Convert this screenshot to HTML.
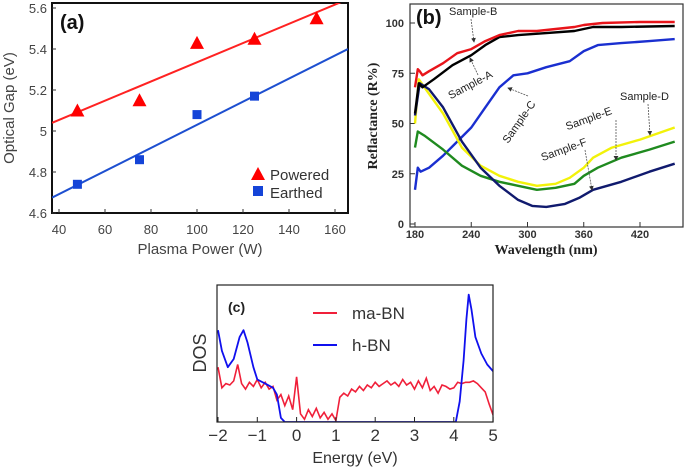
<!DOCTYPE html>
<html><head><meta charset="utf-8"><style>
body{margin:0;background:#fff;width:685px;height:469px;overflow:hidden}
svg{display:block;font-family:"Liberation Sans",sans-serif}
</style></head><body>
<svg id="s" width="685" height="469">
<defs><marker id="ar" markerWidth="6" markerHeight="6" refX="5" refY="3" orient="auto"><path d="M0,0L6,3L0,6z" fill="#333"/></marker>
<clipPath id="ca"><rect x="52" y="3" width="296" height="210"/></clipPath>
<clipPath id="cb"><rect x="410" y="4" width="273" height="223"/></clipPath>
<clipPath id="cc"><rect x="217" y="285" width="276" height="137"/></clipPath></defs>
</svg>
<script>
// Panel (a)
const aPowX=[48,75,100,125,152], aPowY=[5.10,5.15,5.43,5.45,5.55];
const aEarX=[48,75,100,125], aEarY=[4.74,4.86,5.08,5.17];
const aFitPow=[[37,5.04],[165,5.64]], aFitEar=[[37,4.675],[165.6,5.40]];
const aXTicks=[40,60,80,100,120,140,160], aYTicks=[4.6,4.8,5.0,5.2,5.4,5.6], aYLab=["4.6","4.8","5","5.2","5.4","5.6"];
// Panel (b)
const bX={B:[180,183,185,188,195,210,225,240,255,270,290,310,330,350,360,380,420,457],
A:[180,184,188,200,220,240,255,270,290,320,350,370,400,457],
C:[180,183,186,195,210,225,240,255,270,285,300,320,345,360,375,400,430,457],
D:[180,184,190,210,230,250,270,290,310,330,345,360,370,390,420,457],
E:[180,183,190,210,230,250,270,290,310,330,350,360,375,400,430,457],
F:[180,185,195,210,230,250,270,290,305,320,340,355,370,400,430,457]};
const bY={B:[68,77,76,74,76,80,85,87,91,94,96,96,97,98,99,100,100.5,100.5],
A:[55,70,68,72,79,84,89,93,94,95,96,98,98,98.5],
C:[17,28,26,28,34,41,48,58,68,74,75,78,81,86,89,90,91,92],
D:[50,72,68,55,38,29,24,21,19,20,23,28,33,38,42,48],
E:[38,46,44,37,29,24,21,19,17,18,20,24,28,33,37,41],
F:[54,70,67,58,41,28,19,12,9,8.5,10,13,17,21,26,30]};
const bCol={C:"#1a2fd0",D:"#f2f20a",E:"#1f8a1f",F:"#101a6e",A:"#000",B:"#e8141a"};
const bXTicks=[180,240,300,360,420], bYTicks=[0,25,50,75,100];
// Panel (c)
const cRed=[4.0,2.5,2.8,2.7,3.0,4.2,2.8,2.4,2.9,2.6,3.1,2.5,2.9,2.4,2.6,1.6,2.0,1.2,1.9,0.9,3.3,0.6,0.2,0.9,0.4,1.0,0.3,0.7,0.2,0.6,0.1,1.8,2.1,1.9,2.4,2.2,2.6,2.3,2.7,2.5,2.9,2.6,2.8,3.0,2.7,2.9,2.6,3.1,2.7,2.9,2.4,3.0,2.5,3.2,2.3,2.6,2.1,2.7,2.6,2.4,2.5,2.9,2.8,2.9,2.9,3.0,2.8,2.5,2.2,1.3,0.5];
const cBlueX=[-2,-1.9,-1.75,-1.6,-1.45,-1.35,-1.25,-1.1,-1,-0.8,-0.6,-0.5,-0.4,-0.3,4.05,4.15,4.25,4.32,4.38,4.45,4.55,4.7,4.85,5];
const cBlueY=[6.7,5.2,4.0,4.6,6.2,6.7,5.8,4.0,3.1,2.8,2.5,2.0,0.3,0,0,1.5,4.5,7.5,9.3,8.2,6.2,5.0,4.2,3.7];
const cXTicks=[-2,-1,0,1,2,3,4,5], cXLab=["\u22122","\u22121","0","1","2","3","4","5"];

const S=document.getElementById('s'),NS="http://www.w3.org/2000/svg";
function mk(t,a,txt,p){const e=document.createElementNS(NS,t);for(const k in a)e.setAttribute(k,a[k]);if(txt!=null)e.textContent=txt;(p||S).appendChild(e);return e;}
function pl(pts){return pts.map((p,i)=>(i?"L":"M")+p[0].toFixed(1)+","+p[1].toFixed(1)).join("");}

// ---- (a)
const ax=v=>59+(v-40)*2.3, ay=v=>213-(v-4.6)*205;
let e=mk('rect',{x:52,y:3,width:296,height:210,fill:'none',stroke:'#111','stroke-width':2});

aXTicks.forEach(t=>{mk('line',{x1:ax(t),x2:ax(t),y1:213,y2:209,stroke:'#333'});
 e=mk('text',{x:ax(t),y:234,'text-anchor':'middle','font-size':13,fill:'#444'},t);
 });
aYTicks.forEach((t,i)=>{mk('line',{x1:52,x2:56,y1:ay(t),y2:ay(t),stroke:'#333'});
 e=mk('text',{x:47,y:ay(t)+5,'text-anchor':'end','font-size':13,fill:'#444'},aYLab[i]);
 });
const ga=mk('g',{'clip-path':'url(#ca)'});
e=mk('path',{d:pl(aFitPow.map(p=>[ax(p[0]),ay(p[1])])),stroke:'#f22',fill:'none','stroke-width':2},null,ga);

e=mk('path',{d:pl(aFitEar.map(p=>[ax(p[0]),ay(p[1])])),stroke:'#1d4fd0',fill:'none','stroke-width':2},null,ga);

aPowX.forEach((x,i)=>{const cx=ax(x),cy=ay(aPowY[i]);
 e=mk('path',{d:`M${cx-7},${cy+6}L${cx},${cy-7}L${cx+7},${cy+6}Z`,fill:'#f00'});
 });
aEarX.forEach((x,i)=>{const cx=ax(x),cy=ay(aEarY[i]);
 e=mk('rect',{x:cx-4.5,y:cy-4.5,width:9,height:9,fill:'#1444d8'});
 });
e=mk('text',{x:60,y:29,'font-size':20,'font-weight':'bold',fill:'#111'},'(a)');

mk('path',{d:'M251,180L258,167L265,180Z',fill:'#f00'});
e=mk('text',{x:270,y:180,'font-size':15,fill:'#333'},'Powered');

mk('rect',{x:253,y:186,width:10,height:10,fill:'#1444d8'});
e=mk('text',{x:270,y:198,'font-size':15,fill:'#333'},'Earthed');

e=mk('text',{x:200,y:254,'text-anchor':'middle','font-size':15,fill:'#444'},'Plasma Power (W)');

e=mk('text',{x:0,y:0,'text-anchor':'middle','font-size':15,fill:'#444',transform:'translate(14,108) rotate(-90)'},'Optical Gap (eV)');


// ---- (b)
const bx=v=>415+(v-180)*0.9375, by=v=>224-v*2.01;
e=mk('rect',{x:410,y:4,width:273,height:223,fill:'none',stroke:'#333','stroke-width':1.2});

bXTicks.forEach(t=>{mk('line',{x1:bx(t),x2:bx(t),y1:227,y2:222,stroke:'#333'});
 e=mk('text',{x:bx(t),y:238,'text-anchor':'middle','font-size':11,'font-weight':'bold',fill:'#333'},t);
 });
bYTicks.forEach(t=>{mk('line',{x1:410,x2:415,y1:by(t),y2:by(t),stroke:'#333'});
 e=mk('text',{x:404,y:by(t)+4,'text-anchor':'end','font-size':11,'font-weight':'bold',fill:'#333'},t);
 });
const gb=mk('g',{'clip-path':'url(#cb)'});
["C","D","E","F","A","B"].forEach(k=>{
 e=mk('path',{d:pl(bX[k].map((x,i)=>[bx(x),by(bY[k][i])])),stroke:bCol[k],fill:'none','stroke-width':2.4,'stroke-linejoin':'round'},null,gb);
 });
e=mk('text',{x:416,y:24,'font-size':20,'font-weight':'bold',fill:'#111'},'(b)');

const ann=[["Sample-B",449,15,0,[471,19,474,42]],["Sample-A",472,88,-28,[478,75,470,58]],["Sample-C",522,124,-55,[528,96,508,88]],
["Sample-D",620,100,0,[648,104,650,135]],["Sample-E",590,122,-20,[616,120,616,160]],["Sample-F",565,153,-20,[585,150,592,190]]];
ann.forEach(a=>{e=mk('text',{x:a[1],y:a[2],'font-size':11,fill:'#222','text-anchor':a[3]?'middle':'start',transform:a[3]?`rotate(${a[3]},${a[1]},${a[2]})`:''},a[0]);
 
 mk('line',{x1:a[4][0],y1:a[4][1],x2:a[4][2],y2:a[4][3],stroke:'#555','stroke-width':0.8,'stroke-dasharray':'2,1','marker-end':'url(#ar)'});});
e=mk('text',{x:546,y:254,'text-anchor':'middle','font-size':14,'font-weight':'bold','font-family':'Liberation Serif,serif',fill:'#222'},'Wavelength (nm)');

e=mk('text',{x:0,y:0,'text-anchor':'middle','font-size':14,'font-weight':'bold','font-family':'Liberation Serif,serif',fill:'#222',transform:'translate(377,116) rotate(-90)'},'Reflactance (R%)');


// ---- (c)
const cx=v=>218+(v+2)*39.3, cy=v=>422-v*13.7;
const gc=mk('g',{'clip-path':'url(#cc)'});
e=mk('path',{d:pl(cRed.map((v,i)=>[cx(-2+i*0.1),cy(v)])),stroke:'#f0203a',fill:'none','stroke-width':1.6},null,gc);

e=mk('path',{d:pl(cBlueX.map((x,i)=>[cx(x),cy(cBlueY[i])])),stroke:'#1010ee',fill:'none','stroke-width':1.8,'stroke-linejoin':'round'},null,gc);

e=mk('rect',{x:217,y:285,width:276,height:137,fill:'none',stroke:'#222','stroke-width':1.2});

cXTicks.forEach((t,i)=>{mk('line',{x1:cx(t),x2:cx(t),y1:422,y2:417,stroke:'#222'});
 e=mk('text',{x:cx(t),y:441,'text-anchor':'middle','font-size':17,fill:'#333'},cXLab[i]);
 });
e=mk('text',{x:228,y:312,'font-size':14,'font-weight':'bold',fill:'#222'},'(c)');

mk('line',{x1:313,x2:337,y1:313,y2:313,stroke:'#f0203a','stroke-width':2});
e=mk('text',{x:352,y:319,'font-size':17,fill:'#333'},'ma-BN');

mk('line',{x1:313,x2:337,y1:345,y2:345,stroke:'#1010ee','stroke-width':2});
e=mk('text',{x:352,y:351,'font-size':17,fill:'#333'},'h-BN');

e=mk('text',{x:355,y:463,'text-anchor':'middle','font-size':16,fill:'#333'},'Energy (eV)');

e=mk('text',{x:0,y:0,'text-anchor':'middle','font-size':18,fill:'#333',transform:'translate(206,353) rotate(-90)'},'DOS');

</script>
</body></html>
